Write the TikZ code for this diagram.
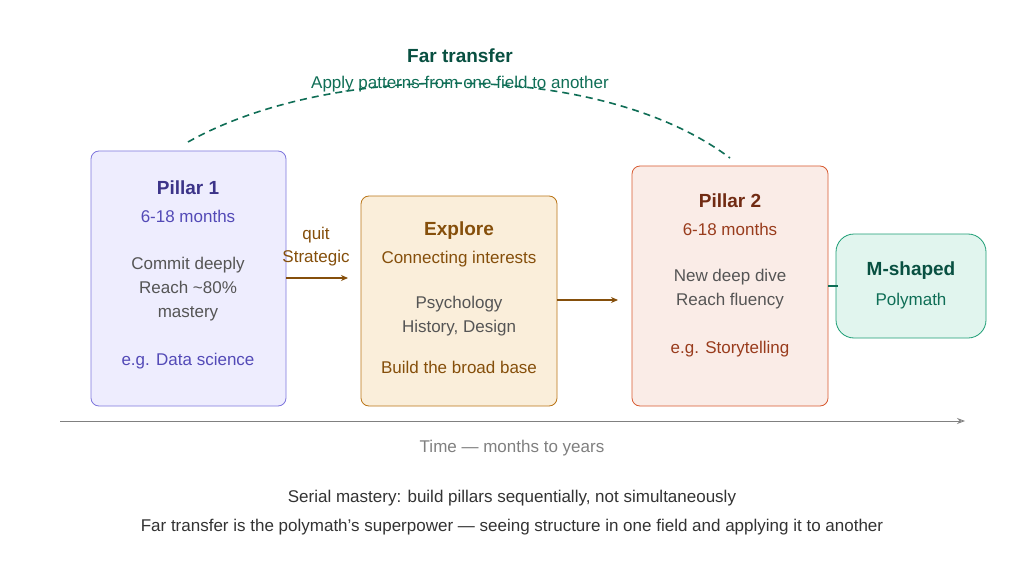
\documentclass[tikz,border=0pt]{standalone}
\usepackage{fontspec}
\setmainfont{Liberation Sans}
\usetikzlibrary{arrows.meta}
\begin{document}
\begin{tikzpicture}[x=1pt,y=-1pt,
 box/.style={draw, rounded corners=8pt, line width=0.8pt},
 t/.style={font=\fontsize{17}{20}\selectfont},
 tb/.style={font=\fontsize{19}{22}\selectfont\bfseries},
 arr/.style={-{Stealth[length=7pt,width=6pt]}, line width=1.2pt, draw=c5}]
\definecolor{c1}{HTML}{3C3489}\definecolor{c2}{HTML}{534AB7}
\definecolor{g}{HTML}{555555}\definecolor{c5}{HTML}{854F0B}
\definecolor{c6}{HTML}{712B13}\definecolor{c7}{HTML}{993C1D}
\definecolor{gr}{HTML}{0F6E56}\definecolor{gd}{HTML}{085041}
\definecolor{f1}{HTML}{EEEDFE}\definecolor{s1}{HTML}{7F77DD}
\definecolor{f2}{HTML}{FAEEDA}\definecolor{s2}{HTML}{BA7517}
\definecolor{f3}{HTML}{FAECE7}\definecolor{s3}{HTML}{D85A30}
\definecolor{f4}{HTML}{E1F5EE}\definecolor{s4}{HTML}{1D9E75}
\definecolor{dk}{HTML}{333333}
\useasboundingbox (0,0) rectangle (1024,572);
\fill[white] (0,0) rectangle (1024,572);
\node[box, fill=f1, draw=s1, minimum width=195pt, minimum height=255pt] (p1) at (188.5,278.5) {};
\node[box, fill=f2, draw=s2, minimum width=196pt, minimum height=210pt] (ex) at (459,301) {};
\node[box, fill=f3, draw=s3, minimum width=196pt, minimum height=240pt] (p2) at (730,286) {};
\node[box, rounded corners=18pt, fill=f4, draw=s4, minimum width=150pt, minimum height=104pt] (m) at (911,286) {};
\node[tb, text=c1] (p1a) at (188,188) {Pillar 1};
\node[t, text=c2] (p1b) at (188,216) {6-18 months};
\node[t, text=g, align=center, font=\fontsize{17}{24}\selectfont] (p1c) at (188,289) {Commit deeply\\Reach \textasciitilde80\%\\mastery};
\node[t, text=c2] (p1d) at (188,361) {e.g. Data science};
\node[tb, text=c5] (exa) at (459,231) {Explore};
\node[t, text=c5] (exb) at (459,259) {Connecting interests};
\node[t, text=g, align=center, font=\fontsize{17}{24}\selectfont] (exc) at (459,316) {Psychology\\History, Design};
\node[t, text=c5] (exd) at (459,367) {Build the broad base};
\node[tb, text=c6] (p2a) at (730,201) {Pillar 2};
\node[t, text=c7] (p2b) at (730,229) {6-18 months};
\node[t, text=g, align=center, font=\fontsize{17}{24}\selectfont] (p2c) at (730,289) {New deep dive\\Reach fluency};
\node[t, text=c7] (p2d) at (730,349) {e.g. Storytelling};
\node[tb, text=gd] (ma) at (911,271) {M-shaped};
\node[t, text=gr] (mb) at (911,301) {Polymath};
\coordinate (a1) at (286,278); \coordinate (a2) at (348,278);
\draw[arr] (a1) -- (a2);
\node[t, text=c5] (q1) at (316,235) {quit};
\node[t, text=c5] (q2) at (316,258) {Strategic};
\coordinate (b1) at (557,300); \coordinate (b2) at (618,300);
\draw[arr] (b1) -- (b2);
\coordinate (c1a) at (828,286); \coordinate (c1b) at (838,286);
\draw[line width=1.2pt, draw=gr] (c1a) -- (c1b);
\coordinate (d1) at (188,142); \coordinate (d2) at (730,158);
\draw[dash pattern=on 7pt off 5pt, line width=1.6pt, draw=gr] (d1) .. controls (330,62) and (600,60) .. (d2);
\node[tb, text=gd] (ft) at (460,56) {Far transfer};
\node[t, text=gr] (fs) at (460,84) {Apply patterns from one field to another};
\coordinate (t1) at (60,421); \coordinate (t2) at (965,421);
\draw[-{Stealth[length=8pt,width=6pt,open]}, line width=0.9pt, draw=gray] (t1) -- (t2);
\node[t, text=gray] (tl) at (512,448) {Time — months to years};
\node[t, text=dk] (sa) at (512,498) {Serial mastery: build pillars sequentially, not simultaneously};
\node[t, text=dk] (sb) at (512,527) {Far transfer is the polymath’s superpower — seeing structure in one field and applying it to another};
\end{tikzpicture}
\end{document}
